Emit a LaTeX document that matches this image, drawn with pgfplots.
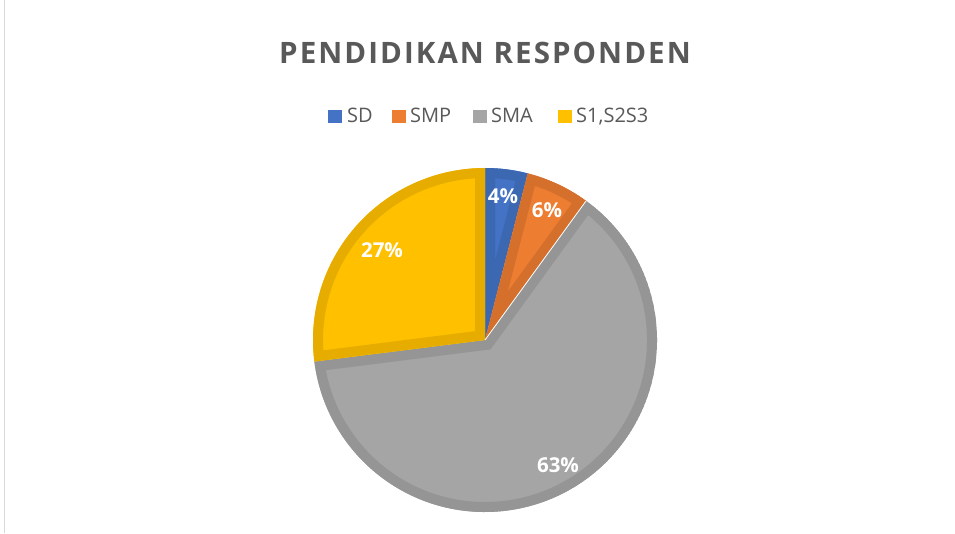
\documentclass[border=0pt]{standalone}
\usepackage{pgfplots}
\pgfplotsset{compat=1.18}
\usepackage{pgfplotstable}
\usepackage{fontspec}
\setmainfont{Open Sans}
\definecolor{cSD}{HTML}{4472C4}\definecolor{dSD}{HTML}{3C67B1}
\definecolor{cSMP}{HTML}{ED7D31}\definecolor{dSMP}{HTML}{D5702C}
\definecolor{cSMA}{HTML}{A5A5A5}\definecolor{dSMA}{HTML}{959595}
\definecolor{cS}{HTML}{FFC000}\definecolor{dS}{HTML}{E6AD00}
\definecolor{txt}{HTML}{595959}
\pgfplotstableread{
label value
SD 4
SMP 6
SMA 63
S1S2S3 27
}\piedata
\newcommand{\slicepath}[2]{(axis cs:485,193) -- ++(#1:172pt) arc[start angle=#1, end angle=#2, radius=172pt] -- cycle}
\newcommand{\slice}[4]{%
  \begin{scope}
    \clip \slicepath{#1}{#2};
    \fill[#3] \slicepath{#1}{#2};
    \draw[#4, line width=20pt] \slicepath{#1}{#2};
  \end{scope}}
\begin{document}
\begin{tikzpicture}
\pgfplotstablegetelem{0}{value}\of\piedata\let\vA\pgfplotsretval
\pgfplotstablegetelem{1}{value}\of\piedata\let\vB\pgfplotsretval
\pgfplotstablegetelem{2}{value}\of\piedata\let\vC\pgfplotsretval
\pgfplotstablegetelem{3}{value}\of\piedata\let\vD\pgfplotsretval
\pgfmathsetmacro\aA{90}
\pgfmathsetmacro\aB{\aA-3.6*\vA}
\pgfmathsetmacro\aC{\aB-3.6*\vB}
\pgfmathsetmacro\aD{\aC-3.6*\vC}
\pgfmathsetmacro\aE{\aD-3.6*\vD}
\begin{axis}[name=ax,
  width=955pt, height=533pt, scale only axis,
  xmin=0, xmax=955, ymin=0, ymax=533,
  hide axis, clip=false]
\path[fill=white] (axis cs:0,0) rectangle (axis cs:955,533);
\draw[draw=black!15, line width=1pt] (axis cs:4,0) -- (axis cs:4,533);
\slice{\aA}{\aB}{cSD}{dSD}
\slice{\aB}{\aC}{cSMP}{dSMP}
\slice{\aC}{\aD}{cSMA}{dSMA}
\slice{\aD}{\aE}{cS}{dS}
\draw[white, line width=0.8pt] (axis cs:485,193) -- ++(\aC:172pt);
\node[text=white, font=\fontsize{20.5}{24}\selectfont\bfseries] at (axis cs:503,337) {\vA\%};
\node[text=white, font=\fontsize{20.5}{24}\selectfont\bfseries] at (axis cs:547,323) {\vB\%};
\node[text=white, font=\fontsize{20.5}{24}\selectfont\bfseries] at (axis cs:558,68) {\vC\%};
\node[text=white, font=\fontsize{20.5}{24}\selectfont\bfseries] at (axis cs:382,283) {\vD\%};
\node[text=txt, font=\fontsize{29.5}{34}\selectfont\bfseries\addfontfeature{LetterSpace=7}] at (axis cs:485,480.5) {PENDIDIKAN RESPONDEN};
\begin{scope}[font=\fontsize{20}{24}\selectfont, text=txt]
\fill[cSD] (axis cs:328,410) rectangle (axis cs:342,423);
\node[anchor=base west, inner sep=0pt] at (axis cs:347,410) {SD};
\fill[cSMP] (axis cs:392,410) rectangle (axis cs:406,423);
\node[anchor=base west, inner sep=0pt] at (axis cs:410,410) {SMP};
\fill[cSMA] (axis cs:473,410) rectangle (axis cs:487,423);
\node[anchor=base west, inner sep=0pt] at (axis cs:491,410) {SMA};
\fill[cS] (axis cs:558,410) rectangle (axis cs:572,423);
\node[anchor=base west, inner sep=0pt] at (axis cs:576,410) {S1,S2S3};
\end{scope}
\end{axis}
\pgfresetboundingbox
\path (ax.south west) rectangle (ax.north east);
\end{tikzpicture}
\end{document}
